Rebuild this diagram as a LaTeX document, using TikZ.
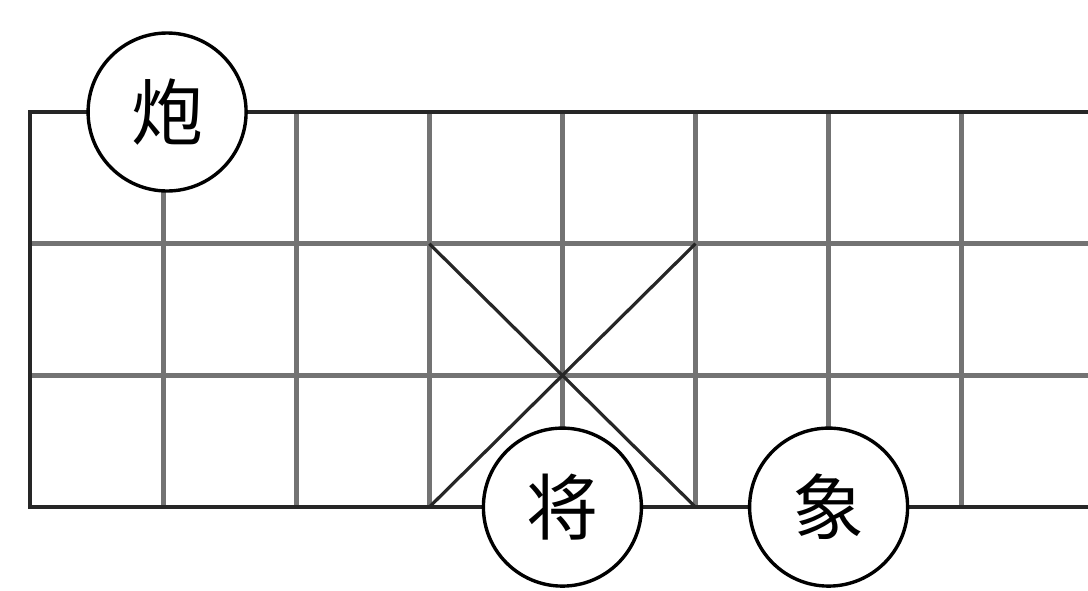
\documentclass[tikz,border=0pt]{standalone}
\usepackage{fontspec}
\newfontfamily\cjk{Noto Sans CJK SC}
\begin{document}
\begin{tikzpicture}[x=0.5pt,y=-0.5pt,
  board/.style={line width=2pt, black!85},
  inner/.style={line width=2.6pt, black!55},
  palace/.style={line width=1.6pt, black!85},
  piece/.style={circle, draw, line width=1.7pt, fill=white, minimum size=79pt, inner sep=0pt, font=\cjk\fontsize{36}{36}\selectfont}
]
\useasboundingbox (0,0) rectangle (1088,590);
% grid points
\foreach \i in {0,...,8}
  \foreach \j in {0,...,3}
    \coordinate (p\i\j) at ({30+133.1*\i},{112+131.7*\j});

% inner lines
\foreach \i in {1,...,8}
  \draw[inner] (p\i0) -- (p\i3);
\foreach \j in {1,2}
  \draw[inner] (p0\j) -- (p8\j);
% border
\draw[board] (p80) -- (p00) -- (p03) -- (p83);
% palace
\draw[palace] (p31) -- (p53);
\draw[palace] (p51) -- (p33);

% pieces
\node[piece, xshift=2pt] (pao) at (p10) {炮};
\node[piece] (jiang) at (p43) {将};
\node[piece] (xiang) at (p63) {象};
\end{tikzpicture}
\end{document}
